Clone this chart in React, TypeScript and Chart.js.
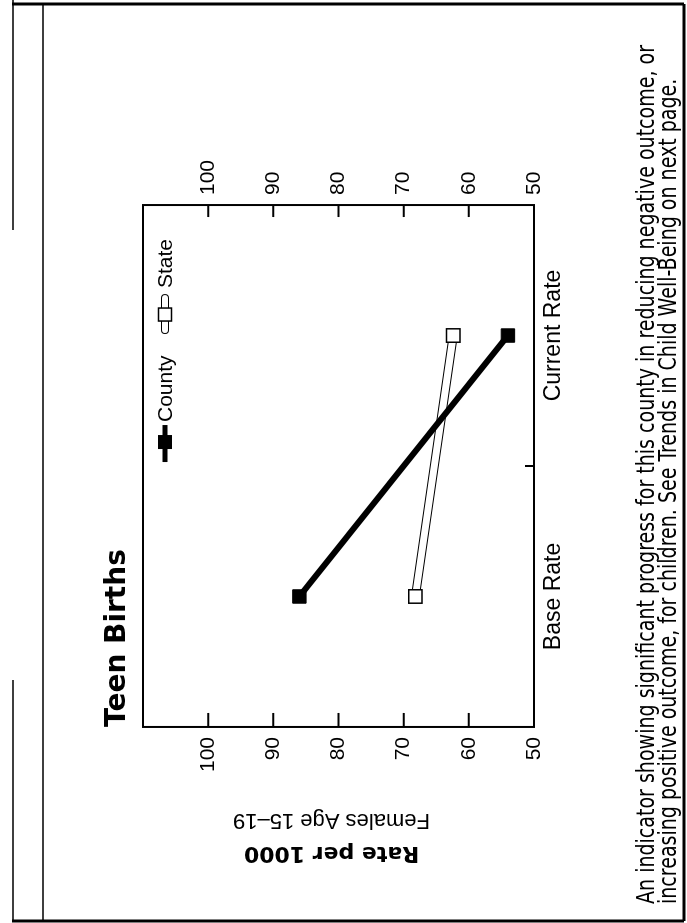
import React, { useEffect, useRef } from 'react';
import { Chart, registerables } from 'chart.js';

Chart.register(...registerables);

const categories = ['Base Rate', 'Current Rate'];
const countyValues = [86, 54];
const stateValues = [68.2, 62.4];
const seriesNames = ['County', 'State'];
const valueTicks = [50, 60, 70, 80, 90, 100];
const axisMin = 50;
const axisMax = 110;
const chartTitle = 'Teen Births';
const axisTitleLines = ['Rate per 1000', 'Females Age 15\u201319'];
const footnoteLines = [
  'An indicator showing significant progress for this county in reducing negative outcome, or',
  'increasing positive outcome, for children. See Trends in Child Well-Being on next page.',
];

const W = 923;
const H = 687;
const SANS = '"Liberation Sans", Arial, sans-serif';
const HEAVY = '"DejaVu Sans", sans-serif';

const decorPlugin = {
  id: 'decor',
  beforeDraw(chart: any) {
    const ctx = chart.ctx;
    ctx.save();
    ctx.fillStyle = '#fff';
    ctx.fillRect(0, 0, chart.width, chart.height);
    ctx.restore();
  },
  afterDraw(chart: any) {
    const ctx = chart.ctx;
    const { left, right, top, bottom } = chart.chartArea;
    const ys = chart.scales.y;
    const xs = chart.scales.x;
    ctx.save();
    ctx.strokeStyle = '#000';
    ctx.fillStyle = '#000';

    // plot frame
    ctx.lineWidth = 2;
    ctx.strokeRect(left, top, right - left, bottom - top);

    // inward tick marks
    ctx.beginPath();
    valueTicks.forEach((v) => {
      const y = ys.getPixelForValue(v);
      ctx.moveTo(left, y);
      ctx.lineTo(left + 14, y);
      ctx.moveTo(right, y);
      ctx.lineTo(right - 12, y);
    });
    const mid = (xs.getPixelForValue(0) + xs.getPixelForValue(1)) / 2;
    ctx.moveTo(mid, bottom);
    ctx.lineTo(mid, bottom - 9);
    ctx.stroke();

    // title
    ctx.font = `bold 28px ${HEAVY}`;
    ctx.textAlign = 'left';
    ctx.textBaseline = 'alphabetic';
    ctx.fillText(chartTitle, left, top - 18);

    // y axis title (two lines)
    const cy = (top + bottom) / 2 - 7;
    ctx.save();
    ctx.translate(left - 126, cy);
    ctx.rotate(-Math.PI / 2);
    ctx.textAlign = 'center';
    ctx.textBaseline = 'middle';
    ctx.font = `bold 22px ${HEAVY}`;
    ctx.fillText(axisTitleLines[0], 0, 0);
    ctx.restore();
    ctx.save();
    ctx.translate(left - 93, cy);
    ctx.rotate(-Math.PI / 2);
    ctx.textAlign = 'center';
    ctx.textBaseline = 'middle';
    ctx.font = `22px ${SANS}`;
    ctx.fillText(axisTitleLines[1], 0, 0);
    ctx.restore();

    // legend
    const ly = top + 22;
    const c0 = right - 257;
    ctx.lineWidth = 5;
    ctx.beginPath();
    ctx.moveTo(c0, ly);
    ctx.lineTo(c0 + 37, ly);
    ctx.stroke();
    ctx.fillRect(c0 + 20 - 7, ly - 7, 14, 14);
    ctx.font = `21px ${SANS}`;
    ctx.textBaseline = 'middle';
    ctx.textAlign = 'left';
    ctx.fillText(seriesNames[0], c0 + 40, ly + 1);

    const s0 = right - 128;
    ctx.lineCap = 'round';
    ctx.lineWidth = 8;
    ctx.strokeStyle = '#000';
    ctx.beginPath();
    ctx.moveTo(s0 + 3, ly);
    ctx.lineTo(s0 + 35, ly);
    ctx.stroke();
    ctx.lineWidth = 6;
    ctx.strokeStyle = '#fff';
    ctx.beginPath();
    ctx.moveTo(s0 + 3, ly);
    ctx.lineTo(s0 + 35, ly);
    ctx.stroke();
    ctx.lineCap = 'butt';
    ctx.fillStyle = '#fff';
    ctx.fillRect(s0 + 12, ly - 6.5, 13, 13);
    ctx.strokeStyle = '#000';
    ctx.lineWidth = 1.5;
    ctx.strokeRect(s0 + 12, ly - 6.5, 13, 13);
    ctx.fillStyle = '#000';
    ctx.fillText(seriesNames[1], s0 + 45, ly + 1);

    // footnote
    ctx.font = `24px "Liberation Sans Narrow", "DejaVu Sans Condensed", ${SANS}`;
    ctx.textBaseline = 'alphabetic';
    const w1 = ctx.measureText(footnoteLines[0]).width;
    const sx = 859 / w1;
    ctx.save();
    ctx.translate(19, 0);
    ctx.scale(sx, 1);
    ctx.fillText(footnoteLines[0], 0, 654);
    ctx.fillText(footnoteLines[1], 0, 676);
    ctx.restore();

    // page frame
    ctx.strokeStyle = '#000';
    ctx.lineWidth = 1.5;
    ctx.beginPath();
    ctx.moveTo(2, 13);
    ctx.lineTo(243, 13);
    ctx.moveTo(693, 13);
    ctx.lineTo(W, 13);
    ctx.moveTo(2, 43);
    ctx.lineTo(919, 43);
    ctx.stroke();
    ctx.lineWidth = 3;
    ctx.beginPath();
    ctx.moveTo(919, 12);
    ctx.lineTo(919, 684);
    ctx.moveTo(2, 684);
    ctx.lineTo(919, 684);
    ctx.moveTo(2, 12);
    ctx.lineTo(2, 684);
    ctx.stroke();
    ctx.restore();
  },
};

export default function App() {
  const ref = useRef<HTMLCanvasElement | null>(null);
  useEffect(() => {
    if (!ref.current) return;
    const tickFont = { family: SANS, size: 21 };
    const yScale = (position: string) => ({
      type: 'linear',
      position,
      min: axisMin,
      max: axisMax,
      grid: { display: false, drawTicks: false },
      border: { display: false },
      ticks: {
        stepSize: 10,
        color: '#000',
        font: tickFont,
        padding: 10,
        callback: (v: number) => (valueTicks.includes(v) ? String(v) : ''),
      },
    });
    const chart = new Chart(ref.current, {
      type: 'line',
      data: {
        labels: categories,
        datasets: [
          {
            label: seriesNames[0],
            data: countyValues,
            borderColor: '#000',
            backgroundColor: '#000',
            borderWidth: 6,
            pointStyle: 'rect',
            pointRadius: 9.5,
            pointBackgroundColor: '#000',
            pointBorderColor: '#000',
            pointBorderWidth: 1,
            order: 1,
            yAxisID: 'y',
          },
          {
            label: seriesNames[1],
            data: stateValues,
            borderColor: '#fff',
            borderWidth: 7,
            pointStyle: 'rect',
            pointRadius: 9.5,
            pointBackgroundColor: '#fff',
            pointBorderColor: '#000',
            pointBorderWidth: 1.5,
            order: 2,
            yAxisID: 'y',
          },
          {
            label: seriesNames[1] + ' outline',
            data: stateValues,
            borderColor: '#000',
            borderWidth: 9,
            pointRadius: 0,
            order: 3,
            yAxisID: 'y',
          },
        ],
      },
      options: {
        animation: false,
        responsive: false,
        devicePixelRatio: 1,
        layout: { padding: { left: 141, right: 150, top: 143, bottom: 113.4 } },
        plugins: { legend: { display: false }, tooltip: { enabled: false }, title: { display: false } },
        scales: {
          x: {
            type: 'category',
            offset: true,
            grid: { display: false, drawTicks: false },
            border: { display: false },
            ticks: { color: '#000', font: { family: SANS, size: 23 }, padding: 6, maxRotation: 0, autoSkip: false },
          },
          y: yScale('left'),
          y2: yScale('right'),
        },
      },
      plugins: [decorPlugin],
    } as any);
    return () => chart.destroy();
  }, []);

  return (
    <div
      style={{
        position: 'fixed',
        left: 0,
        top: 0,
        width: W,
        height: H,
        transformOrigin: '0 0',
        transform: `translateY(${W}px) rotate(-90deg)`,
        background: '#fff',
      }}
    >
      <canvas ref={ref} width={W} height={H} style={{ width: W, height: H, display: 'block' }} />
    </div>
  );
}
